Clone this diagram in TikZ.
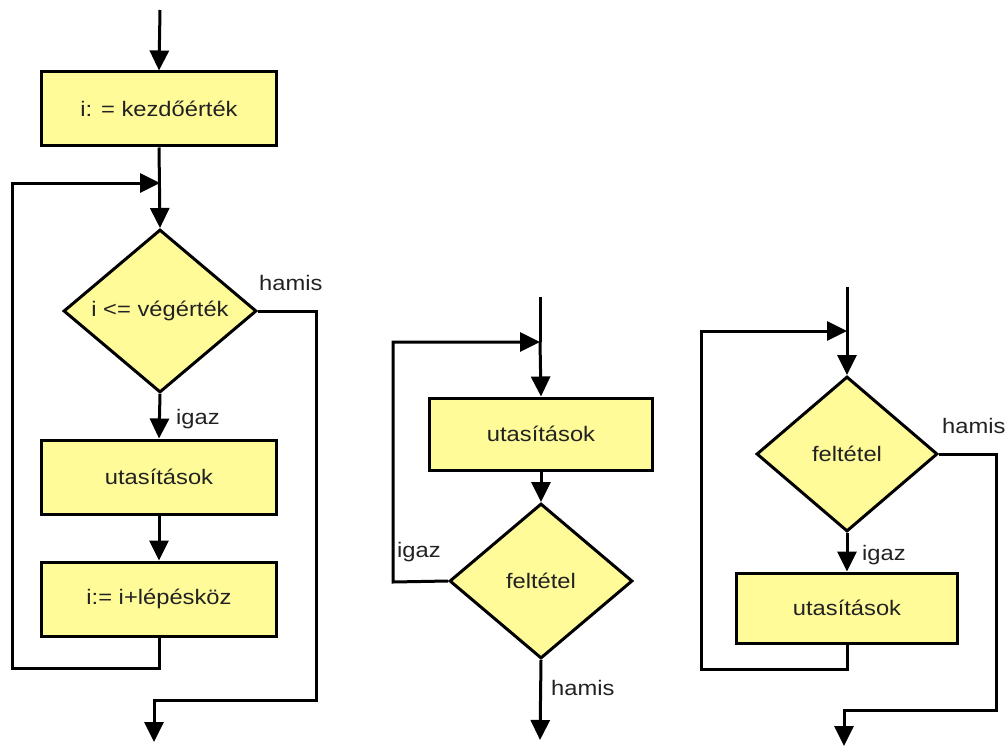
\documentclass[tikz,border=0pt]{standalone}
\usepackage{fontspec}
\setmainfont{Liberation Sans}[FakeStretch=1.13]
\usetikzlibrary{arrows.meta,shapes.geometric}
\definecolor{boxfill}{HTML}{FFFB99}
\definecolor{txt}{HTML}{222222}
\tikzset{
  arr/.style={line width=3pt,-{Triangle[length=20pt,width=19pt]}},
  ln/.style={line width=3pt},
  procbox/.style={draw,line width=3pt,fill=boxfill,rectangle,inner sep=0pt,
    font=\fontsize{21}{25}\selectfont,text=txt},
  decbox/.style={draw,line width=3pt,fill=boxfill,diamond,inner sep=0pt,
    font=\fontsize{21}{25}\selectfont,text=txt},
  lbl/.style={anchor=base west,inner sep=0pt,font=\fontsize{21}{25}\selectfont,text=txt}
}
\begin{document}
\begin{tikzpicture}[x=1pt,y=-1pt]
\useasboundingbox (0,0) rectangle (1008,746);
% ---------- left chart ----------
\node[procbox,minimum width=235pt,minimum height=74pt] (b1) at (159,109) {i: = kezdőérték};
\node[decbox,minimum width=193pt,minimum height=163pt] (d1) at (160,311) {i <= végérték};
\node[procbox,minimum width=235pt,minimum height=74pt] (b2) at (159,477) {utasítások};
\node[procbox,minimum width=235pt,minimum height=74pt] (b3) at (159,599) {i:= i+lépésköz};
\coordinate (Lin) at (160,10);
\coordinate (Lj) at (160,183);
\coordinate (Lbl) at (12,668);
\coordinate (Lr) at (316,700);
\coordinate (Lout) at (154,742);
\draw[arr] (Lin) -- (b1.north);
\draw[arr] (b1.south) -- (d1.north);
\draw[arr] (b3.south) |- (Lbl) |- (Lj);
\draw[arr] (d1.south) -- (b2.north);
\draw[arr] (b2.south) -- (b3.north);
\draw[arr] (d1.east) -| (Lr) -| (Lout);
\node[lbl] (l1h) at (259,290) {hamis};
\node[lbl] (l1i) at (176,424) {igaz};
% ---------- middle chart ----------
\node[procbox,minimum width=223pt,minimum height=72pt] (b4) at (541,434) {utasítások};
\node[decbox,minimum width=183pt,minimum height=155pt] (d2) at (541,581) {feltétel};
\coordinate (Min) at (540,297);
\coordinate (Mj) at (540,342);
\coordinate (Ml) at (393,582);
\coordinate (Mout) at (540,740);
\draw[ln] (Min) -- (Mj);
\draw[arr] (Mj) -- (b4.north);
\draw[arr] (b4.south) -- (d2.north);
\draw[arr] (d2.west) -- (Ml) |- (Mj);
\draw[arr] (d2.south) -- (Mout);
\node[lbl] (l2i) at (397,557) {igaz};
\node[lbl] (l2h) at (551,695) {hamis};
% ---------- right chart ----------
\node[decbox,minimum width=181pt,minimum height=155pt] (d3) at (847,454) {feltétel};
\node[procbox,minimum width=221pt,minimum height=70pt] (b5) at (847,608) {utasítások};
\coordinate (Rin) at (847,287);
\coordinate (Rj) at (847,331);
\coordinate (Rbl) at (701,669);
\coordinate (Rr) at (996,710);
\coordinate (Rout) at (844,746);
\draw[ln] (Rin) -- (Rj);
\draw[arr] (Rj) -- (d3.north);
\draw[arr] (d3.south) -- (b5.north);
\draw[arr] (b5.south) |- (Rbl) |- (Rj);
\draw[arr] (d3.east) -| (Rr) -| (Rout);
\node[lbl] (l3h) at (942,433) {hamis};
\node[lbl] (l3i) at (862,560) {igaz};
\end{tikzpicture}
\end{document}
